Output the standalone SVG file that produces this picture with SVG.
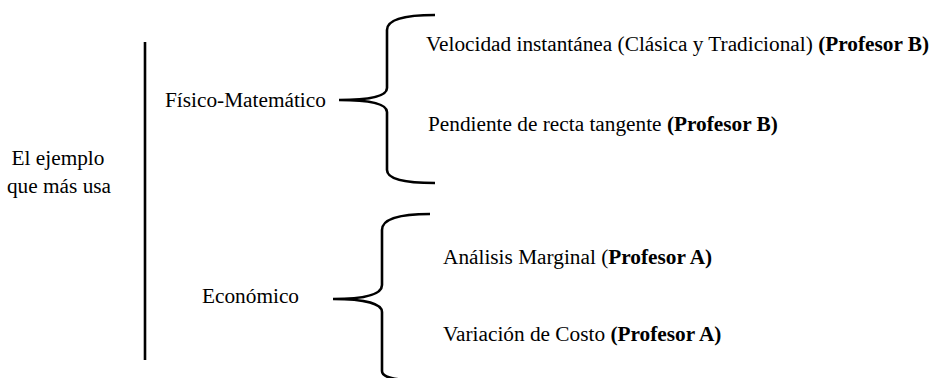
<svg xmlns="http://www.w3.org/2000/svg" width="934" height="378" viewBox="0 0 934 378">
<style>
text{font-family:"Liberation Serif","Times New Roman",serif;font-size:21.3px;fill:#000}
.b{font-weight:bold}
.c{fill:none;stroke:#000;stroke-width:2.6;stroke-linecap:butt}
</style>
<rect width="934" height="378" fill="#fff"/>
<g id="connectors">
<line class="c" x1="145" y1="42" x2="145" y2="360" stroke-width="2.2"/>
<path class="c" d="M435 15 C405 15 387 19 387 30 L387 88 C387 96 372 100 339 100 C372 100 387 104 387 112 L387 170 C387 179 405 183 435 183"/>
<path class="c" d="M430 214 C400 214 382 219 382 230 L382 285 C382 294 366 299 333 299 C366 299 382 304 382 312 L382 371 C382 377 392 380 420 381"/>
</g>
<g id="root"><text x="58" y="165" text-anchor="middle">El ejemplo</text><text x="59" y="193" text-anchor="middle">que más usa</text></g>
<g id="fisico"><text x="165" y="107">Físico-Matemático</text></g>
<g id="economico"><text x="202" y="303">Económico</text></g>
<g id="velocidad"><text x="426" y="51">Velocidad instantánea (Clásica y Tradicional) <tspan class="b">(Profesor B)</tspan></text></g>
<g id="pendiente"><text x="428" y="131">Pendiente de recta tangente <tspan class="b">(Profesor B)</tspan></text></g>
<g id="analisis"><text x="443" y="264">Análisis Marginal (<tspan class="b">Profesor A)</tspan></text></g>
<g id="variacion"><text x="443" y="341">Variación de Costo <tspan class="b">(Profesor A)</tspan></text></g>
</svg>
